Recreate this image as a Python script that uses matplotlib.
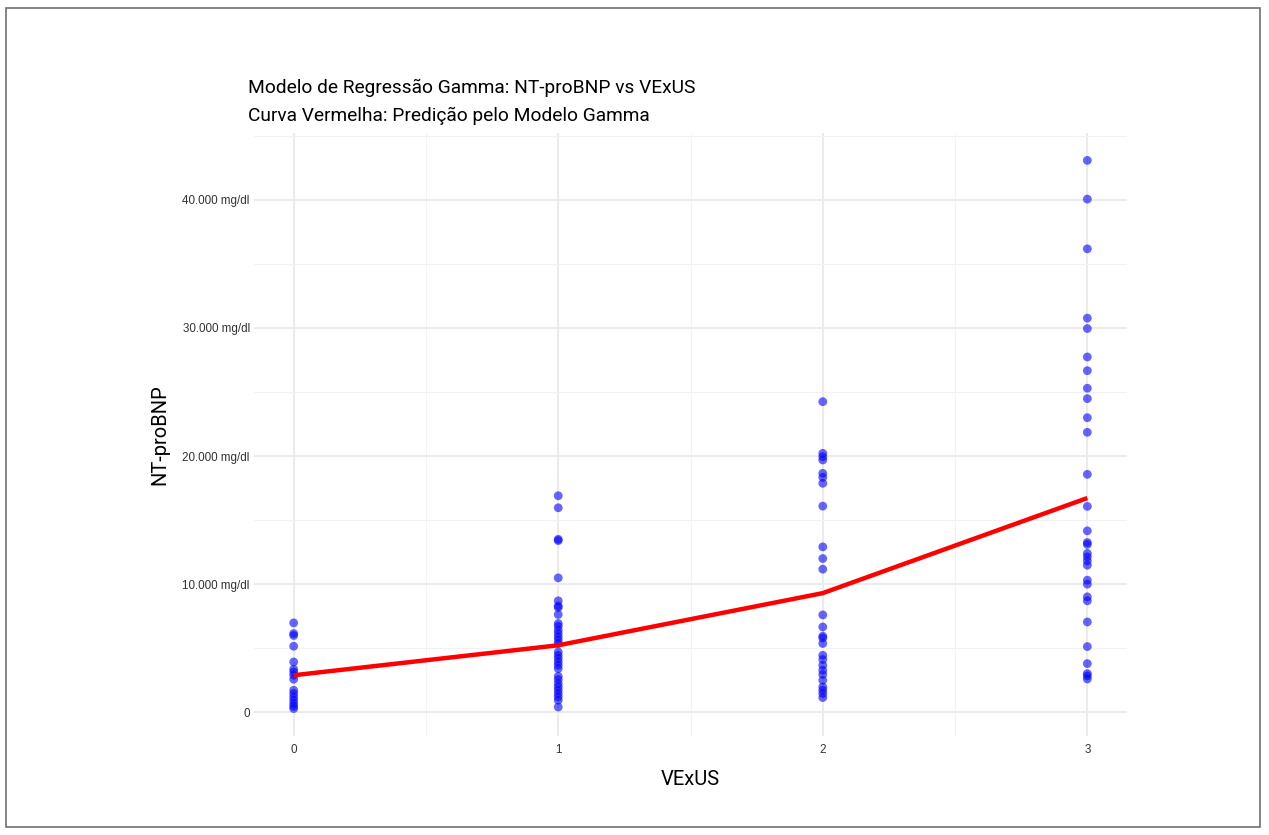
import matplotlib
matplotlib.use("Agg")
import matplotlib.pyplot as plt
from matplotlib.ticker import FuncFormatter, MultipleLocator
from matplotlib.patches import Rectangle

# NT-proBNP por grau VExUS
vexus0 = [6977, 6148, 5992, 5156, 3930, 3359, 3148, 2890, 2578, 1719, 1461,
          1195, 938, 680, 469, 289]
vexus1 = [16900, 15960, 13500, 13400, 10490, 8700, 8300, 8180, 7630, 6930,
          6720, 6410, 6150, 5880, 5630, 5370, 4710, 4450, 4200, 3930, 3670,
          3410, 2810, 2550, 2240, 1980, 1720, 1460, 1200, 940, 410]
vexus2 = [24240, 20210, 19950, 19690, 18650, 18340, 17870, 16090, 12910,
          12000, 11170, 7600, 6660, 5940, 5800, 5370, 4450, 4120, 3670, 3280,
          2950, 2500, 1980, 1720, 1460, 1150]
vexus3 = [43070, 40050, 36170, 30760, 29950, 27730, 26660, 25290, 24480,
          22990, 21850, 18570, 16070, 14160, 13250, 13100, 12400, 12130,
          11820, 11480, 10310, 10000, 9010, 8700, 7050, 5130, 3800, 3020,
          2840, 2600]

grupos = [vexus0, vexus1, vexus2, vexus3]
pred_x = [0, 1, 2, 3]
pred_y = [2890, 5230, 9300, 16720]

narrow = ['Liberation Sans Narrow', 'Roboto', 'DejaVu Sans']
regular = ['Liberation Sans', 'DejaVu Sans']

fig = plt.figure(figsize=(12.69, 8.35), dpi=100)
ax = fig.add_axes([254 / 1269, 1 - 736 / 835, (1127 - 254) / 1269, (736 - 133) / 835])

for i, g in enumerate(grupos):
    ax.scatter([i] * len(g), g, s=40, color='#0000ff', alpha=0.6,
               edgecolors='none', zorder=3)

ax.plot(pred_x, pred_y, color='#ff0000', lw=3.2, zorder=4,
        solid_capstyle='butt')

todos = [v for g in grupos for v in g]
lo, hi = min(todos), max(todos)
pad = (hi - lo) * 0.05
ax.set_ylim(lo - pad, hi + pad)
ax.set_xlim(-0.15, 3.15)

ax.xaxis.set_major_locator(MultipleLocator(1))
ax.xaxis.set_minor_locator(MultipleLocator(0.5))
ax.yaxis.set_major_locator(MultipleLocator(10000))
ax.yaxis.set_minor_locator(MultipleLocator(5000))


def fmt(v, pos):
    if v == 0:
        return "0"
    return f"{int(v):,}".replace(",", ".") + " mg/dl"


ax.yaxis.set_major_formatter(FuncFormatter(fmt))
ax.grid(which='major', color='#ebebeb', lw=1.4)
ax.grid(which='minor', color='#f2f2f2', lw=0.8)
ax.set_axisbelow(True)
for s in ax.spines.values():
    s.set_visible(False)
ax.tick_params(which='both', length=0, labelsize=8.4, labelcolor='#333333')
ax.tick_params(axis='y', pad=3)
ax.tick_params(axis='x', pad=6)
for lab in ax.get_xticklabels() + ax.get_yticklabels():
    lab.set_family(regular)

ax.set_xlabel("VExUS", fontsize=14.5, family=narrow, labelpad=10)
ax.set_ylabel("NT-proBNP", fontsize=14.5, family=narrow)
ax.yaxis.set_label_coords(-0.097, 0.5)

fig.text(248 / 1269, 1 - 88 / 835, "Modelo de Regressão Gamma: NT-proBNP vs VExUS",
         fontsize=13.8, family=narrow, va='center', ha='left')
fig.text(248 / 1269, 1 - 116 / 835, "Curva Vermelha: Predição pelo Modelo Gamma",
         fontsize=13.8, family=narrow, va='center', ha='left')

fig.patches.append(Rectangle((6 / 1269, 8 / 835), 1254 / 1269, 819 / 835,
                             transform=fig.transFigure, fill=False,
                             edgecolor='#707070', lw=1.2))

fig.savefig("out.png", dpi=100)
